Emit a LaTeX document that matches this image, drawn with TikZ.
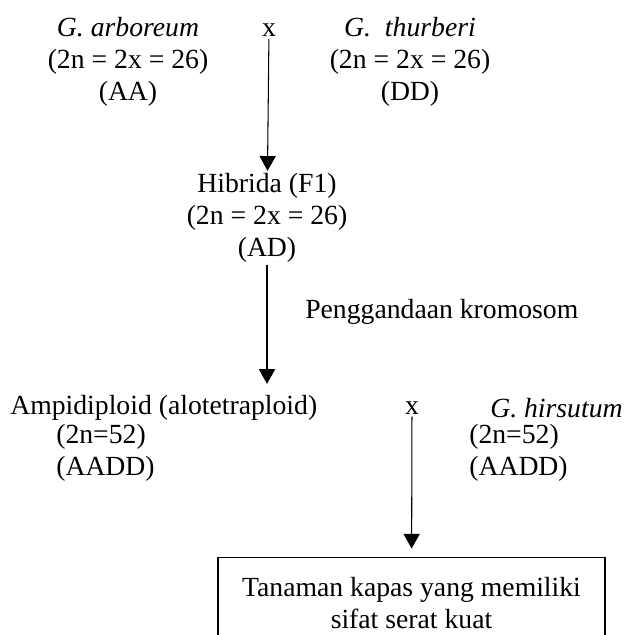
\documentclass[tikz,border=0pt]{standalone}
\usepackage{fontspec}
\setmainfont{Liberation Serif}
\usepackage{tikz}
\usetikzlibrary{arrows.meta,positioning}

\newcommand{\diagfont}{\fontsize{19.7pt}{22.8pt}\selectfont}

\begin{document}
\begin{tikzpicture}[
	every node/.style={font=\diagfont},
	plant/.style={inner sep=1.5pt, align=center},
	chrom/.style={inner sep=0pt, align=left, anchor=west},
	arrow/.style={-{Triangle[width=11.5pt,length=10.5pt]}, line width=0.75pt}, % fleche pleine
	resultbox/.style={draw, line width=0.75pt, align=center, anchor=north,
		minimum width=9.675cm, inner ysep=0.5cm}
	]
	\useasboundingbox (0,0) rectangle (15.6,15.875);
	\clip (0,0) rectangle (15.6,15.875);

	% Les parents
	\node[plant] (arbor) at (3.2, 14.32) {\textit{G. arboreum}\\(2n = 2x = 26)\\(AA)};
	\node[plant] (cross1) at (6.725, 15.12) {x};
	\node[plant] (thurb) at (10.25, 14.32) {\textit{G.\ \ thurberi}\\(2n = 2x = 26)\\(DD)};

	% Hibrida
	\node[plant] (hyb) at (6.675, 10.43) {Hibrida (F1)\\(2n = 2x = 26)\\(AD)};
	\node[chrom] (double) at (7.625, 8.075) {Penggandaan kromosom};

	% Ampidiploid x G. hirsutum
	\node[chrom] (amp) at (0.25, 5.675) {Ampidiploid (alotetraploid)};
	\node[chrom] (ampchr) at (1.4, 4.55) {(2n=52)\\(AADD)};
	\node[plant] (cross2) at (10.3, 5.675) {x};
	\node[chrom] (hirs) at (12.25, 5.675) {\textit{G. hirsutum}};
	\node[chrom] (hirschr) at (11.725, 4.55) {(2n=52)\\(AADD)};

	% Le resultat
	\node[resultbox] (result) at (10.2875, 1.95) {Tanaman kapas yang memiliki\\sifat serat kuat};

	% Les fleches
	\draw[arrow] (cross1) -- (hyb);
	\draw[arrow, shorten >=8pt] (hyb) -- (hyb |- amp.north);
	\draw[arrow, shorten >=6pt] (cross2) -- (result);
\end{tikzpicture}
\end{document}
